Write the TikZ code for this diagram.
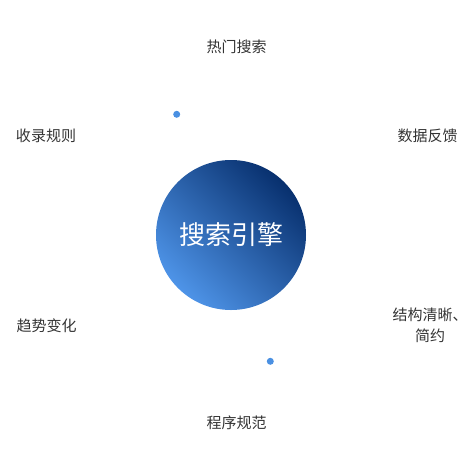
\documentclass[tikz,border=0pt]{standalone}
\usepackage{fontspec}
\setmainfont{Noto Sans CJK SC}
\usepackage{xcolor}
\usepackage{tikz}
\usetikzlibrary{
    positioning,
    shapes.geometric
}
\definecolor{hubdark}{RGB}{8,48,110}
\definecolor{hublight}{RGB}{78,148,232}
\definecolor{dotblue}{RGB}{74,144,226}
\definecolor{labelgray}{RGB}{51,51,51}
\tikzset{
    hub/.style={
        circle, minimum size=150pt, inner sep=0pt,
        top color=hubdark, bottom color=hublight, shading angle=-45,
        text=white, font=\fontsize{26}{30}\selectfont
    },
    topic/.style={
        text=labelgray, align=center, inner sep=0pt,
        font=\fontsize{15}{21}\selectfont
    },
    marker/.style={
        circle, fill=dotblue, minimum size=7pt, inner sep=0pt
    }
}

\begin{document}
\begin{tikzpicture}[x=1pt, y=-1pt]

    % --- CANVAS ---
    \useasboundingbox (0,0) rectangle (473,469);

    % --- CENTER ---
    \node[hub] (engine) at (231,235) {搜索引擎};

    % --- TOPICS ---
    \node[topic] (hot) at (236.5,47) {热门搜索};
    \node[topic] (rules) at (46,136) {收录规则};
    \node[topic] (feedback) at (427.5,136) {数据反馈};
    \node[topic] (trend) at (46.5,326) {趋势变化};
    \node[topic] (clean) at (430,325) {结构清晰、\\简约};
    \node[topic] (spec) at (236.5,423) {程序规范};

    % --- MARKERS ---
    \node[marker] (dot_a) at (176.7,114.3) {};
    \node[marker] (dot_b) at (270.3,361.3) {};

\end{tikzpicture}
\end{document}
